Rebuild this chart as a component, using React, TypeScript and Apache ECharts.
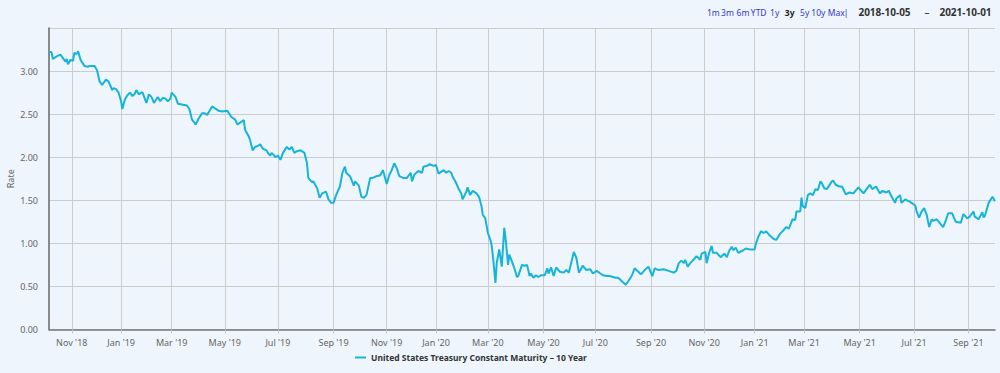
import React, { useEffect, useRef } from "react";
import * as echarts from "echarts";

// Series: 10-year constant maturity yield, sampled on the trading-day axis (Highcharts ordinal axis)
const seriesName = "United States Treasury Constant Maturity – 10 Year";

// trading-session index counted from 2018-10-05
const tradingDay = [
  0, 2, 3, 6, 9, 11, 13, 14, 15, 17, 19, 20, 22, 23, 25, 28, 31, 32, 36, 38,
  40, 42, 45, 47, 50, 51, 53, 55, 57, 58, 60, 62, 64, 66, 68, 69, 71, 73, 74, 77,
  79, 81, 83, 86, 88, 90, 92, 94, 96, 97, 100, 102, 106, 109, 111, 113, 116, 118, 121, 123,
  125, 129, 131, 134, 137, 141, 144, 147, 149, 152, 154, 155, 158, 159, 161, 163, 165, 167, 169, 172,
  173, 175, 176, 178, 179, 181, 183, 185, 188, 190, 192, 194, 196, 199, 202, 204, 205, 208, 209, 212,
  214, 216, 219, 221, 223, 225, 227, 230, 232, 234, 235, 238, 241, 242, 245, 247, 249, 251, 254, 256,
  259, 262, 264, 265, 267, 269, 271, 273, 275, 277, 280, 283, 286, 287, 289, 292, 295, 296, 299, 301,
  304, 306, 308, 312, 314, 316, 318, 319, 322, 324, 326, 327, 330, 331, 333, 335, 338, 340, 342, 343,
  345, 347, 349, 350, 351, 353, 354, 356, 358, 360, 361, 363, 364, 366, 368, 370, 371, 374, 376, 378,
  380, 381, 383, 385, 387, 389, 392, 394, 395, 397, 399, 401, 404, 407, 409, 411, 415, 417, 419, 422,
  425, 428, 430, 433, 436, 438, 441, 443, 446, 448, 450, 453, 456, 458, 461, 463, 466, 468, 471, 474,
  477, 479, 482, 486, 490, 494, 496, 498, 500, 502, 503, 505, 507, 509, 512, 515, 516, 519, 520, 522,
  524, 525, 528, 531, 534, 536, 538, 540, 541, 543, 545, 549, 551, 554, 558, 559, 561, 563, 565, 567,
  570, 573, 575, 578, 580, 583, 585, 588, 590, 591, 594, 595, 596, 598, 600, 602, 604, 606, 608, 610,
  611, 613, 615, 619, 620, 622, 625, 627, 630, 633, 636, 640, 644, 646, 649, 651, 654, 657, 659, 662,
  664, 666, 669, 670, 673, 674, 677, 678, 680, 682, 685, 686, 688, 690, 692, 694, 696, 698, 699, 702,
  704, 707, 709, 711, 714, 717, 721, 723, 726, 728, 731, 732, 735, 738, 739, 740, 743, 746, 748,
];

const rate = [
  3.22, 3.22, 3.14, 3.17, 3.19, 3.15, 3.11, 3.14, 3.08, 3.13, 3.12, 3.21, 3.2, 3.23, 3.13, 3.06, 3.05, 3.06, 3.06, 3.01,
  2.88, 2.84, 2.9, 2.88, 2.78, 2.8, 2.79, 2.75, 2.65, 2.56, 2.67, 2.72, 2.75, 2.71, 2.74, 2.78, 2.73, 2.75, 2.75, 2.63,
  2.73, 2.7, 2.63, 2.7, 2.65, 2.69, 2.68, 2.65, 2.68, 2.75, 2.7, 2.62, 2.61, 2.6, 2.56, 2.44, 2.38, 2.44, 2.51, 2.51,
  2.49, 2.59, 2.57, 2.54, 2.53, 2.54, 2.47, 2.44, 2.38, 2.41, 2.43, 2.32, 2.24, 2.2, 2.08, 2.12, 2.13, 2.15, 2.1, 2.08,
  2.05, 2.02, 2.05, 2.02, 2.0, 2.02, 1.97, 2.05, 2.12, 2.09, 2.12, 2.05, 2.07, 2.08, 2.05, 1.93, 1.76, 1.71, 1.72, 1.64,
  1.53, 1.58, 1.6, 1.51, 1.47, 1.47, 1.56, 1.66, 1.82, 1.89, 1.82, 1.78, 1.67, 1.72, 1.67, 1.54, 1.53, 1.56, 1.76, 1.76,
  1.78, 1.79, 1.85, 1.8, 1.69, 1.79, 1.85, 1.93, 1.87, 1.78, 1.76, 1.76, 1.82, 1.72, 1.8, 1.84, 1.82, 1.89, 1.9, 1.92,
  1.9, 1.91, 1.81, 1.85, 1.82, 1.84, 1.82, 1.78, 1.7, 1.63, 1.58, 1.51, 1.6, 1.65, 1.56, 1.61, 1.58, 1.54, 1.43, 1.33,
  1.29, 1.12, 1.04, 0.98, 0.85, 0.54, 0.77, 0.93, 0.73, 1.18, 1.06, 0.75, 0.87, 0.79, 0.71, 0.61, 0.62, 0.75, 0.74, 0.75,
  0.62, 0.65, 0.6, 0.63, 0.61, 0.63, 0.63, 0.71, 0.65, 0.72, 0.62, 0.72, 0.67, 0.66, 0.69, 0.66, 0.9, 0.83, 0.66, 0.74,
  0.69, 0.7, 0.65, 0.68, 0.65, 0.63, 0.62, 0.62, 0.61, 0.6, 0.6, 0.56, 0.52, 0.56, 0.63, 0.71, 0.67, 0.64, 0.69, 0.73,
  0.62, 0.71, 0.69, 0.7, 0.68, 0.66, 0.68, 0.77, 0.8, 0.77, 0.81, 0.73, 0.77, 0.8, 0.85, 0.81, 0.88, 0.9, 0.77, 0.89,
  0.97, 0.89, 0.89, 0.84, 0.88, 0.84, 0.92, 0.96, 0.92, 0.95, 0.89, 0.92, 0.94, 0.93, 0.93, 1.0, 1.08, 1.14, 1.12, 1.14,
  1.09, 1.05, 1.04, 1.11, 1.14, 1.19, 1.17, 1.28, 1.27, 1.37, 1.37, 1.53, 1.43, 1.41, 1.56, 1.58, 1.56, 1.63, 1.62, 1.72,
  1.7, 1.64, 1.63, 1.72, 1.73, 1.68, 1.66, 1.66, 1.57, 1.59, 1.58, 1.65, 1.58, 1.62, 1.68, 1.63, 1.66, 1.58, 1.61, 1.59,
  1.61, 1.55, 1.47, 1.52, 1.56, 1.47, 1.51, 1.5, 1.49, 1.47, 1.44, 1.37, 1.3, 1.37, 1.41, 1.33, 1.19, 1.28, 1.26, 1.28,
  1.24, 1.19, 1.26, 1.35, 1.35, 1.25, 1.24, 1.34, 1.29, 1.31, 1.37, 1.31, 1.28, 1.36, 1.3, 1.32, 1.47, 1.54, 1.49,
];

// x-axis: trading-day index of the first session of each labelled month
const lastTradingDay = 748;
const tickDays = [18, 57, 97, 139, 181, 225, 267, 306, 347, 391, 432, 476, 518, 558, 597, 641, 684, 727];
const tickLabels = [
  "Nov '18", "Jan '19", "Mar '19", "May '19", "Jul '19", "Sep '19", "Nov '19", "Jan '20", "Mar '20",
  "May '20", "Jul '20", "Sep '20", "Nov '20", "Jan '21", "Mar '21", "May '21", "Jul '21", "Sep '21",
];

// y-axis
const yMin = 0;
const yMax = 3.5;
const yStep = 0.5;
const yName = "Rate";

// range selector
const rangeButtons = ["1m", "3m", "6m", "YTD", "1y", "3y", "5y", "10y", "Max", "|"];
const selectedRange = "3y";
const startDate = "2018-10-05";
const endDate = "2021-10-01";

const FONT = "'Noto Sans', 'Open Sans', sans-serif";

export default function App() {
  const ref = useRef<HTMLDivElement>(null);

  useEffect(() => {
    if (!ref.current) return;
    const chart = echarts.init(ref.current, undefined, { renderer: "svg" });

    const data = tradingDay.map((d, i) => [d, rate[i]]);

    const buttonCenters = [713.3, 727.5, 743, 758.7, 774.7, 789.7, 804.7, 818.3, 836.2, 846];
    const graphic: any[] = rangeButtons.map((b, i) => ({
      type: "text",
      x: buttonCenters[i],
      y: 12,
      silent: true,
      style: {
        text: b,
        fontFamily: FONT,
        fontSize: 8.5,
        fontWeight: b === selectedRange ? "bold" : "normal",
        fill: b === selectedRange ? "#222222" : "#3535d0",
        align: "center",
        verticalAlign: "middle",
      },
    }));
    graphic.push(
      {
        type: "text",
        x: 884.5,
        y: 12,
        silent: true,
        style: { text: startDate, fontFamily: FONT, fontSize: 10, fontWeight: "bold", fill: "#333333", align: "center", verticalAlign: "middle" },
      },
      {
        type: "text",
        x: 927,
        y: 12,
        silent: true,
        style: { text: "–", fontFamily: FONT, fontSize: 10, fill: "#333333", align: "center", verticalAlign: "middle" },
      },
      {
        type: "text",
        x: 965.5,
        y: 12,
        silent: true,
        style: { text: endDate, fontFamily: FONT, fontSize: 10, fontWeight: "bold", fill: "#333333", align: "center", verticalAlign: "middle" },
      }
    );

    chart.setOption({
      animation: false,
      backgroundColor: "#eef5fc",
      textStyle: { fontFamily: FONT },
      grid: { left: 49, right: 5, top: 28, bottom: 43.5, containLabel: false, outerBoundsMode: "none" },
      legend: {
        data: [seriesName],
        left: 355,
        top: 353,
        padding: 0,
        icon: "rect",
        itemWidth: 11,
        itemHeight: 2,
        itemGap: 10,
        textStyle: { fontFamily: FONT, fontSize: 8.5, fontWeight: "bold", color: "#333333" },
      },
      xAxis: {
        type: "value",
        min: 0,
        max: lastTradingDay,
        axisLine: { show: true, lineStyle: { color: "#777777", width: 1.5 } },
        axisTick: { show: true, length: 4, customValues: tickDays, lineStyle: { color: "#c8c8c8" } },
        axisLabel: {
          customValues: tickDays,
          formatter: (v: number) => {
            const i = tickDays.indexOf(Math.round(v));
            return i >= 0 ? tickLabels[i] : "";
          },
          color: "#666666",
          fontSize: 9,
          fontFamily: FONT,
          margin: 8,
        },
        splitLine: { show: true, lineStyle: { color: "#cccccc", width: 1 } },
      },
      yAxis: {
        type: "value",
        min: yMin,
        max: yMax,
        interval: yStep,
        name: yName,
        nameLocation: "middle",
        nameRotate: 90,
        nameGap: 34,
        nameMoveOverlap: false,
        nameTextStyle: { color: "#666666", fontSize: 9, fontFamily: FONT },
        axisLine: { show: true, lineStyle: { color: "#666666", width: 1.5 } },
        axisTick: { show: false },
        axisLabel: {
          showMaxLabel: false,
          formatter: (v: number) => v.toFixed(2),
          color: "#666666",
          fontSize: 9,
          fontFamily: FONT,
          margin: 11,
        },
        splitLine: { show: true, lineStyle: { color: "#cccccc", width: 1 } },
      },
      series: [
        {
          name: seriesName,
          type: "line",
          data,
          showSymbol: false,
          symbol: "none",
          lineStyle: { color: "#16b4d8", width: 2 },
          itemStyle: { color: "#16b4d8" },
          z: 3,
        },
      ],
      graphic,
    });

    return () => chart.dispose();
  }, []);

  return (
    <div
      ref={ref}
      style={{ position: "fixed", left: 0, top: 0, width: 1000, height: 373, background: "#eef5fc" }}
    />
  );
}
